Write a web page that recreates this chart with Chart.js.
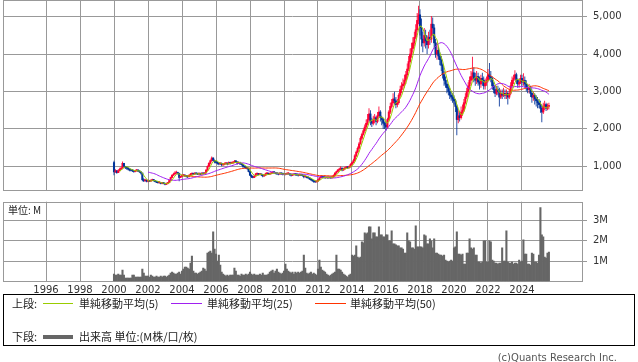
<!DOCTYPE html>
<html><head><meta charset="utf-8">
<script src="https://cdn.jsdelivr.net/npm/chart.js@4.4.1/dist/chart.umd.min.js"></script>
<style>
html,body{margin:0;padding:0;background:#fff;width:638px;height:362px;overflow:hidden;position:relative;font-family:"DejaVu Sans",sans-serif;}
canvas{position:absolute;left:0;}
#pc{top:0;}
#vc{top:195px;}
.t{position:absolute;white-space:nowrap;font-family:"Noto Sans CJK JP",sans-serif;font-size:11px;color:#222;line-height:12px;}
#legend{position:absolute;left:3px;top:294px;width:630px;height:50px;border:1px solid #000;}
.ln{position:absolute;height:1px;}
#copy{font-family:"DejaVu Sans",sans-serif;font-size:10px;color:#555;right:21px;top:352px;}
</style></head><body>
<canvas id="pc" width="638" height="192"></canvas>
<canvas id="vc" width="638" height="100"></canvas>
<div class="t" style="left:8px;top:204px;font-size:10px;">単位: M</div>
<div id="legend"></div>
<div class="t" style="left:12px;top:297px;">上段:</div>
<div class="ln" style="left:43px;top:303px;width:30px;background:#99cc00;"></div>
<div class="t" style="left:79px;top:297px;">単純移動平均(5)</div>
<div class="ln" style="left:171px;top:303px;width:31px;background:#a020f0;"></div>
<div class="t" style="left:207px;top:297px;">単純移動平均(25)</div>
<div class="ln" style="left:315px;top:303px;width:31px;background:#ff3300;"></div>
<div class="t" style="left:350px;top:297px;">単純移動平均(50)</div>
<div class="t" style="left:12px;top:330px;">下段:</div>
<div class="ln" style="left:43px;top:335px;width:30px;height:4px;background:#666;"></div>
<div class="t" style="left:79px;top:330px;">出来高 単位:(M株/口/枚)</div>
<div class="t" id="copy">(c)Quants Research Inc.</div>
<script>
const startYear = 2000; // first month: Jan 2000, monthly candles
const open = [
1100,850,880,830,880,920,950,1080,1000,960,950,920,
900,890,880,860,880,900,870,850,820,640,610,620,
600,610,600,620,640,620,590,570,560,560,540,550,
540,520,540,560,620,700,760,790,820,840,810,700,
730,750,760,740,730,720,760,790,800,790,810,800,
790,800,790,810,800,820,900,1000,1080,1150,1220,1160,
1120,1100,1080,1060,1080,1040,1050,1070,1080,1060,1100,1080,
1090,1100,1130,1120,1080,1100,1060,1050,1000,980,960,940,
860,760,720,700,740,790,800,780,790,770,740,760,
800,810,790,800,820,840,830,810,800,790,810,800,
790,780,790,800,810,780,760,770,790,780,770,760,
780,760,750,720,730,700,690,660,640,610,590,580,
600,640,690,730,710,700,690,700,690,700,690,710,
760,820,860,900,920,950,900,930,960,980,960,990,
1050,1100,1150,1280,1380,1480,1600,1750,1850,1950,2050,2150,
2250,2400,2200,2150,2250,2300,2200,2350,2450,2300,2250,2150,
2100,2050,2250,2450,2600,2700,2800,2750,2650,2700,2900,3050,
3150,3200,3300,3450,3600,3800,4000,4150,4300,4450,4650,4900,
5050,4700,4400,4300,4500,4350,4250,4450,4400,4800,4700,4300,
4000,4100,3950,3850,3700,3450,3300,3200,3100,3000,2900,2850,
2800,2750,2600,2250,2350,2300,2450,2500,2700,2850,3000,3150,
3300,3400,3500,3350,3300,3400,3250,3200,3350,3300,3150,3250,
3300,3450,3400,3350,3150,3050,2950,3050,3000,2850,2950,2900,
2950,2900,2950,2850,2950,3150,3300,3350,3450,3300,3200,3250,
3350,3250,3300,3200,3100,3050,3100,2950,2850,2900,2800,2750,
2700,2650,2550,2450,2600,2650,2550,2600];
const high = [
1150,920,900,920,960,990,1130,1090,1010,990,970,940,
930,920,900,910,930,920,890,870,830,680,660,650,
640,630,650,670,660,630,600,590,590,570,570,570,
550,560,580,640,720,790,830,870,880,850,830,750,
780,790,780,760,750,790,820,830,820,840,830,820,
830,820,840,830,840,920,1020,1110,1180,1260,1240,1180,
1150,1130,1110,1110,1100,1080,1100,1110,1100,1130,1120,1120,
1130,1170,1160,1130,1130,1120,1090,1070,1020,1000,980,960,
870,780,740,760,820,830,820,810,800,790,790,830,
840,830,820,850,870,860,850,830,820,840,830,820,
810,820,830,840,820,800,800,810,810,800,790,800,
790,780,770,750,740,720,700,680,660,630,610,620,
660,710,750,740,720,710,720,710,720,710,730,780,
840,880,930,960,1000,970,960,990,1010,1000,1020,1080,
1130,1200,1320,1420,1530,1650,1800,1900,2010,2120,2250,2400,
2550,2500,2300,2350,2400,2350,2450,2600,2500,2350,2300,2200,
2200,2300,2500,2700,2800,2950,2990,2850,2800,2950,3150,3250,
3350,3450,3550,3750,3950,4150,4300,4450,4600,4800,5100,5290,
5200,4950,4600,4700,4650,4500,4600,4650,5020,4980,4800,4400,
4300,4200,4050,3950,3750,3550,3400,3300,3200,3100,3000,2950,
2900,2800,2650,2500,2450,2600,2650,2800,2950,3100,3250,3400,
3550,3930,3650,3500,3550,3500,3400,3450,3500,3400,3350,3400,
3600,3760,3550,3400,3250,3150,3150,3150,3100,3050,3050,3100,
3050,3050,3000,3050,3250,3400,3450,3570,3500,3350,3350,3450,
3450,3490,3400,3300,3200,3200,3150,3050,3000,2950,2900,2850,
2800,2750,2650,2700,2750,2700,2680,2700];
const low = [
760,830,800,820,870,900,940,960,930,910,890,870,
860,850,830,840,860,850,830,780,600,580,590,570,
570,580,590,610,590,570,550,540,540,520,520,520,
490,500,520,550,610,690,750,780,800,780,600,690,
720,730,720,700,690,710,750,770,770,780,780,770,
770,770,780,780,790,810,880,980,1050,1120,1130,1080,
1070,1050,1030,1040,1000,1010,1030,1040,1030,1050,1050,1060,
1060,1080,1090,1050,1060,1040,1020,960,950,930,910,840,
740,690,680,690,730,770,760,760,740,710,720,750,
780,770,770,790,810,800,790,770,760,780,770,760,
760,760,770,780,750,730,740,760,750,740,730,750,
740,730,680,700,680,670,640,610,590,562,560,570,
590,630,680,690,680,670,680,670,680,670,680,700,
750,800,840,880,890,870,880,910,940,930,940,970,
1030,1080,1130,1250,1350,1450,1580,1700,1820,1900,2000,2100,
2200,2100,2050,2100,2150,2100,2150,2300,2200,2100,2000,2000,
1950,2000,2200,2400,2550,2650,2650,2550,2580,2650,2850,2950,
3050,3100,3200,3350,3550,3750,3900,4050,4200,4400,4600,4800,
4500,4200,4050,4200,4150,4000,4150,4250,4300,4500,4150,3900,
3850,3850,3700,3550,3350,3150,3100,2950,2900,2800,2750,2700,
2650,2450,1830,2150,2200,2250,2350,2450,2650,2800,2900,3050,
3200,3300,3250,3150,3200,3150,3050,3100,3150,3050,3050,3150,
3250,3300,3250,3050,2950,2850,2900,2900,2600,2800,2800,2850,
2800,2800,2650,2800,2900,3100,3200,3300,3200,3100,3100,3200,
3150,3150,3100,3000,2950,2950,2850,2700,2750,2650,2600,2550,
2550,2430,2180,2400,2500,2480,2500,2520];
const close = [
850,880,830,880,920,950,1080,1000,960,950,920,900,
890,880,860,880,900,870,850,820,640,610,620,600,
610,600,620,640,620,590,570,560,560,540,550,540,
520,540,560,620,700,760,790,820,840,810,700,730,
750,760,740,730,720,760,790,800,790,810,800,790,
800,790,810,800,820,900,1000,1080,1150,1220,1160,1120,
1100,1080,1060,1080,1040,1050,1070,1080,1060,1100,1080,1090,
1100,1130,1120,1080,1100,1060,1050,1000,980,960,940,860,
760,720,700,740,790,800,780,790,770,740,760,800,
810,790,800,820,840,830,810,800,790,810,800,790,
780,790,800,810,780,760,770,790,780,770,760,780,
760,750,720,730,700,690,660,640,610,590,580,600,
640,690,730,710,700,690,700,690,700,690,710,760,
820,860,900,920,950,900,930,960,980,960,990,1050,
1100,1150,1280,1380,1480,1600,1750,1850,1950,2050,2150,2250,
2400,2200,2150,2250,2300,2200,2350,2450,2300,2250,2150,2100,
2050,2250,2450,2600,2700,2800,2750,2650,2700,2900,3050,3150,
3200,3300,3450,3600,3800,4000,4150,4300,4450,4650,4900,5050,
4700,4400,4300,4500,4350,4250,4450,4400,4800,4700,4300,4000,
4100,3950,3850,3700,3450,3300,3200,3100,3000,2900,2850,2800,
2750,2600,2250,2350,2300,2450,2500,2700,2850,3000,3150,3300,
3400,3500,3350,3300,3400,3250,3200,3350,3300,3150,3250,3300,
3450,3400,3350,3150,3050,2950,3050,3000,2850,2950,2900,2950,
2900,2950,2850,2950,3150,3300,3350,3450,3300,3200,3250,3350,
3250,3300,3200,3100,3050,3100,2950,2850,2900,2800,2750,2700,
2650,2550,2450,2600,2650,2550,2600,2620];
// monthly volume, millions
const volume = [
0.35,0.3,0.3,0.35,0.3,0.3,0.55,0.3,0.15,0.15,0.15,0.15,
0.15,0.3,0.3,0.2,0.2,0.2,0.2,0.2,0.6,0.4,0.25,0.25,
0.25,0.2,0.3,0.25,0.2,0.2,0.25,0.2,0.2,0.25,0.2,0.25,
0.25,0.2,0.25,0.3,0.4,0.45,0.4,0.35,0.35,0.4,0.45,0.35,
0.5,0.6,0.7,0.7,0.65,0.6,0.9,1.25,0.5,0.4,0.4,0.35,
0.4,0.45,0.5,0.65,0.6,0.5,1.4,1.45,1.5,1.4,2.45,1.6,
1.35,1.0,1.3,0.8,0.45,0.35,0.3,0.25,0.3,0.25,0.3,0.3,
0.3,0.65,0.5,0.3,0.3,0.25,0.35,0.3,0.3,0.35,0.3,0.35,
0.45,0.35,0.3,0.35,0.3,0.3,0.3,0.35,0.3,0.4,0.3,0.3,
0.3,0.35,0.45,0.5,0.55,0.4,0.5,0.6,0.45,0.4,0.35,0.4,
0.5,0.85,0.6,0.5,0.45,0.4,0.45,0.35,0.45,0.4,0.45,0.4,
0.45,0.5,1.3,0.65,0.4,0.35,0.4,0.45,0.35,0.4,0.35,0.3,
0.6,1.05,0.7,0.55,0.5,0.45,0.35,0.3,0.25,0.3,0.35,0.4,
0.45,1.3,0.6,0.6,0.55,0.45,0.35,0.3,0.25,0.2,0.3,0.35,
1.3,1.25,1.3,1.75,1.2,1.15,1.2,1.95,1.9,2.4,2.35,2.4,
2.7,2.7,2.1,2.4,2.4,2.2,2.2,2.7,2.3,2.3,2.2,2.2,
2.3,2.3,2.0,2.0,2.5,1.85,1.85,1.8,1.75,1.75,1.65,1.65,
1.6,1.4,1.4,2.4,2.0,1.95,1.65,1.65,1.6,2.75,1.7,1.7,
1.7,1.7,1.65,2.3,2.25,1.85,1.85,2.1,2.0,1.65,2.1,1.4,
1.4,1.35,1.3,1.3,1.25,1.3,1.05,1.0,0.95,1.0,1.05,1.0,
1.65,1.7,2.45,1.35,1.35,1.3,1.35,0.85,0.85,1.4,1.4,2.1,
1.65,1.6,1.65,1.3,1.3,0.95,0.95,0.9,0.95,2.0,2.0,0.95,
0.95,2.0,1.95,1.05,1.0,0.9,0.9,0.85,0.9,0.9,1.65,1.0,
1.0,2.5,0.95,0.9,0.9,0.95,0.85,0.9,0.9,0.85,1.05,0.95,
1.0,2.05,1.35,1.35,0.85,0.85,0.8,1.4,1.35,0.95,0.95,0.9,
1.3,3.65,2.3,2.2,1.2,1.15,1.4,1.45];
const yearTicks = [1996,1998,2000,2002,2004,2006,2008,2010,2012,2014,2016,2018,2020,2022,2024];
const priceTicks = [1000,2000,3000,4000,5000];
const volumeTicks = [1,2,3];
const maPeriods = [5,25,50];
const maColors = ['#99cc00','#a020f0','#ff3300'];
const upColor = '#ff0033', downColor = '#003399', gridColor = '#999999';

const months = close.map((_, i) => startYear + i / 12);
const candleColors = close.map((c, i) => c >= open[i] ? upColor : downColor);
function sma(n) {
  const out = [];
  for (let i = n - 1; i < close.length; i++) {
    let s = 0; for (let k = i - n + 1; k <= i; k++) s += close[k];
    out.push({x: months[i], y: s / n});
  }
  return out;
}
const xMin = 1993.47, xMax = 2027.53;
const frame = { id: 'frame', beforeDatasetsDraw(chart) {
  const a = chart.chartArea, ctx = chart.ctx;
  ctx.save(); ctx.strokeStyle = gridColor; ctx.lineWidth = 1;
  const l = Math.round(a.left), t = Math.round(a.top), r = Math.round(a.right), b = Math.round(a.bottom);
  ctx.strokeRect(l + 0.5, t + 0.5, r - l, b - t); ctx.restore();
}};
const tickFont = {family: 'DejaVu Sans', size: 10};
function xScale(showLabels, h) {
  return { type: 'linear', min: xMin, max: xMax, offset: false,
    afterBuildTicks: s => { s.ticks = yearTicks.map(v => ({value: v})); },
    ticks: { display: showLabels, font: tickFont, color: '#333', padding: 3, autoSkip: false, maxRotation: 0, callback: v => String(v) },
    grid: { color: gridColor, drawTicks: false, offset: false }, border: { display: false },
    afterFit: s => { s.height = h; s.paddingLeft = 0; s.paddingRight = 0; } };
}
function yScale(min, max, ticks, fmt) {
  return { position: 'right', min, max,
    afterBuildTicks: s => { s.ticks = ticks.map(v => ({value: v})); },
    ticks: { font: tickFont, color: '#333', padding: 6, callback: fmt },
    grid: { color: gridColor, tickLength: 5 }, border: { display: false },
    afterFit: s => { s.width = 56; s.paddingTop = 0; s.paddingBottom = 0; } };
}
const maSets = maPeriods.map((p, k) => ({ type: 'line', data: sma(p), borderColor: maColors[k], borderWidth: 1, pointRadius: 0, tension: 0, order: 0 }));
new Chart(document.getElementById('pc'), {
  type: 'bar',
  data: { datasets: [
    ...maSets,
    { data: months.map((x, i) => ({x, y: [low[i], high[i]]})), backgroundColor: candleColors, grouped: false, categoryPercentage: 1, barPercentage: 0.6, order: 2 },
    { data: months.map((x, i) => ({x, y: [open[i], close[i]]})), backgroundColor: candleColors, grouped: false, categoryPercentage: 1, barPercentage: 1, minBarLength: 1, order: 1 }
  ]},
  options: { responsive: false, animation: false, events: [],
    layout: { padding: { left: 3, top: 0, right: 0, bottom: 2 } },
    plugins: { legend: { display: false }, tooltip: { enabled: false } },
    scales: { x: xScale(false, 0), y: yScale(366, 5446, priceTicks, v => v.toLocaleString('en-US')) } },
  plugins: [frame]
});
new Chart(document.getElementById('vc'), {
  type: 'bar',
  data: { datasets: [ { data: months.map((x, i) => ({x, y: volume[i]})), backgroundColor: '#666666', categoryPercentage: 1, barPercentage: 1 } ] },
  options: { responsive: false, animation: false, events: [],
    layout: { padding: { left: 3, top: 6.7, right: 0, bottom: 0 } },
    plugins: { legend: { display: false }, tooltip: { enabled: false } },
    scales: { x: xScale(true, 13.8), y: yScale(0, 3.945, volumeTicks, v => v + 'M') } },
  plugins: [frame]
});
</script>
</body></html>
